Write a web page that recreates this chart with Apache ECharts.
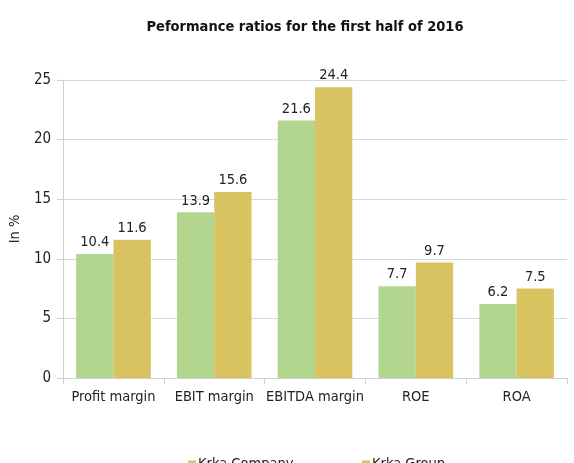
<!DOCTYPE html>
<html><head><meta charset="utf-8">
<script src="https://cdn.jsdelivr.net/npm/echarts@6/dist/echarts.min.js"></script>
<style>html,body{margin:0;padding:0;background:#fff}#c{width:574px;height:463px}</style>
</head><body><div id="c"></div>
<script>
const categories = ["Profit margin", "EBIT margin", "EBITDA margin", "ROE", "ROA"];
const krkaCompany = [10.4, 13.9, 21.6, 7.7, 6.2];
const krkaGroup = [11.6, 15.6, 24.4, 9.7, 7.5];
const seriesNames = ["Krka Company", "Krka Group"];
const FONT = "'Liberation Sans Narrow','Arial Narrow','DejaVu Sans Condensed',sans-serif";
const chart = echarts.init(document.getElementById('c'));
const lbl = {show:true, position:'top', distance:4, color:'#222', fontSize:14.5, fontFamily:FONT, formatter: p => p.value.toFixed(1)};
chart.setOption({
  animation:false,
  title:{text:"Peformance ratios for the first half of 2016", left:300, textAlign:'center', top:15,
    textStyle:{fontFamily:FONT, fontWeight:'bold', fontSize:14.5, color:'#111'}},
  legend:[
    {data:[seriesNames[0]], left:183, top:452, icon:'rect', itemWidth:8, itemHeight:8, itemGap:4,
     textStyle:{fontFamily:FONT, fontSize:14.5, color:'#222', padding:[0,0,0,-3]}},
    {data:[seriesNames[1]], left:357, top:452, icon:'rect', itemWidth:8, itemHeight:8, itemGap:4,
     textStyle:{fontFamily:FONT, fontSize:14.5, color:'#222', padding:[0,0,0,-3]}}
  ],
  grid:{left:61, right:7, top:80, bottom:85},
  xAxis:{type:'category', data:categories,
    axisLine:{lineStyle:{color:'#d0d0d0'}},
    axisTick:{show:true, length:6, lineStyle:{color:'#d0d0d0'}},
    axisLabel:{color:'#222', fontSize:14.5, fontFamily:FONT, margin:12, interval:0}},
  yAxis:{type:'value', min:0, max:25, interval:5, name:'In %', nameLocation:'middle', nameGap:36, nameRotate:90,
    nameTextStyle:{fontFamily:FONT, fontSize:14.5, color:'#222'},
    axisLine:{show:true, lineStyle:{color:'#d0d0d0'}},
    axisTick:{show:true, length:6, lineStyle:{color:'#d0d0d0'}},
    axisLabel:{color:'#222', fontSize:15, fontFamily:FONT, margin:12},
    splitLine:{lineStyle:{color:'#d9d9d9'}}},
  series:[
    {name:seriesNames[0], type:'bar', data:krkaCompany, barGap:'0%', barCategoryGap:'26%',
     itemStyle:{color:'#b2d68e'}, label:lbl},
    {name:seriesNames[1], type:'bar', data:krkaGroup, barGap:'0%', barCategoryGap:'26%',
     itemStyle:{color:'#d9c360'}, label:lbl}
  ]
});
</script></body></html>
